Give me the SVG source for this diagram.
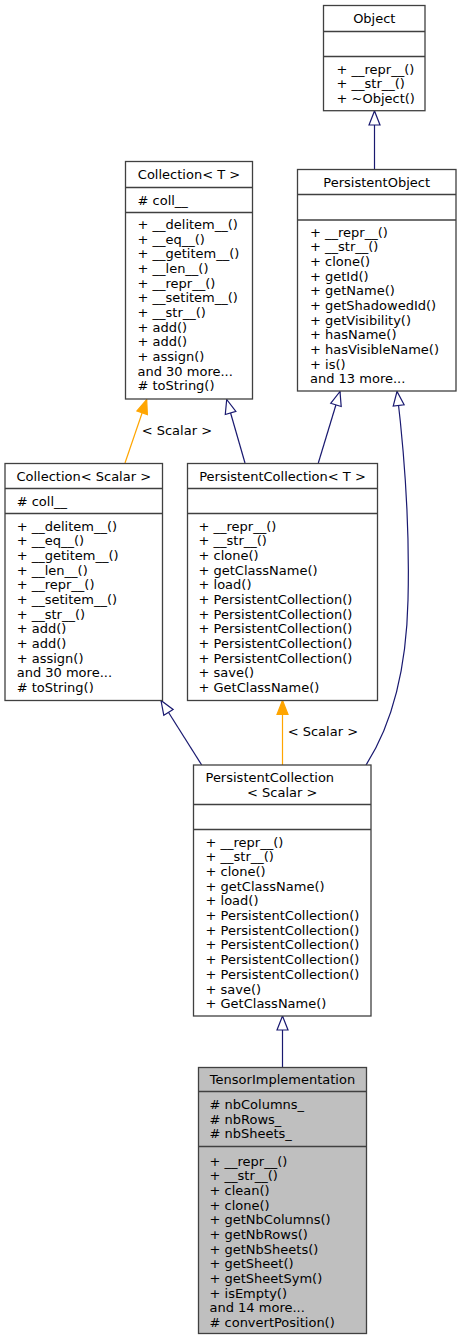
<svg xmlns="http://www.w3.org/2000/svg" width="457" height="1340" viewBox="0 0 457 1340">
<style>
text{font-family:"DejaVu Sans","Liberation Sans",sans-serif;font-size:13px;fill:#000}
.c{text-anchor:middle}
.box{fill:#fff;stroke:#404040;stroke-width:1.3}
.focus{fill:#bfbfbf;stroke:#404040;stroke-width:1.3}
.sep{stroke:#404040;stroke-width:1.3}
.inh{fill:none;stroke:#191970;stroke-width:1.2;marker-end:url(#hollow)}
.tpl{fill:none;stroke:#ffa500;stroke-width:1.2;marker-end:url(#solid)}
</style>
<defs>
<marker id="hollow" markerUnits="userSpaceOnUse" markerWidth="18" markerHeight="14" refX="15" refY="7" orient="auto">
<path d="M1,1.5 L15,7 L1,12.5 z" fill="#fff" stroke="#191970" stroke-width="1.2"/>
</marker>
<marker id="solid" markerUnits="userSpaceOnUse" markerWidth="18" markerHeight="14" refX="15" refY="7" orient="auto">
<path d="M1,1.5 L15,7 L1,12.5 z" fill="#ffa500" stroke="#ffa500" stroke-width="1.2"/>
</marker>
</defs>
<g id="connectors">
<path class="inh" d="M374.5,169.5 L374.5,111"/>
<path class="tpl" d="M125,463 L146.7,399.5"/>
<text x="141.7" y="435">&lt; Scalar &gt;</text>
<path class="inh" d="M245,463 L226.7,399.5"/>
<path class="inh" d="M318.3,463 L340,391.5"/>
<path class="inh" d="M366,765 C382,740 406,690 408,600 C410,520 404,450 397,391.5"/>
<path class="inh" d="M201.7,765 L161,700.5"/>
<path class="tpl" d="M282.5,765 L282.5,700.5"/>
<text x="287.7" y="736.2">&lt; Scalar &gt;</text>
<path class="inh" d="M282.5,1067.5 L282.5,1016"/>
</g>
<g id="Object">
<rect class="box" x="323.5" y="5.5" width="101.5" height="105.2"/>
<line class="sep" x1="323.5" y1="31.5" x2="425" y2="31.5"/>
<line class="sep" x1="323.5" y1="56.5" x2="425" y2="56.5"/>
<text class="c" x="374.3" y="22.8">Object</text>
<text x="336.5" y="73.5">+ __repr__()<tspan x="336.5" dy="14.67">+ __str__()</tspan><tspan x="336.5" dy="14.67">+ ~Object()</tspan></text>
</g>
<g id="PersistentObject">
<rect class="box" x="297.5" y="169.5" width="158.5" height="221.5"/>
<line class="sep" x1="297.5" y1="194.5" x2="456" y2="194.5"/>
<line class="sep" x1="297.5" y1="220" x2="456" y2="220"/>
<text class="c" x="376.7" y="186.5">PersistentObject</text>
<text x="310" y="236.5">+ __repr__()<tspan x="310" dy="14.67">+ __str__()</tspan><tspan x="310" dy="14.67">+ clone()</tspan><tspan x="310" dy="14.67">+ getId()</tspan><tspan x="310" dy="14.67">+ getName()</tspan><tspan x="310" dy="14.67">+ getShadowedId()</tspan><tspan x="310" dy="14.67">+ getVisibility()</tspan><tspan x="310" dy="14.67">+ hasName()</tspan><tspan x="310" dy="14.67">+ hasVisibleName()</tspan><tspan x="310" dy="14.67">+ is()</tspan><tspan x="310" dy="14.67">and 13 more...</tspan></text>
</g>
<g id="CollectionT">
<rect class="box" x="125.5" y="161.5" width="127" height="237.5"/>
<line class="sep" x1="125.5" y1="187.5" x2="252.5" y2="187.5"/>
<line class="sep" x1="125.5" y1="212.5" x2="252.5" y2="212.5"/>
<text class="c" x="189" y="179">Collection&lt; T &gt;</text>
<text x="137.5" y="204.5"># coll__</text>
<text x="137.5" y="229">+ __delitem__()<tspan x="137.5" dy="14.67">+ __eq__()</tspan><tspan x="137.5" dy="14.67">+ __getitem__()</tspan><tspan x="137.5" dy="14.67">+ __len__()</tspan><tspan x="137.5" dy="14.67">+ __repr__()</tspan><tspan x="137.5" dy="14.67">+ __setitem__()</tspan><tspan x="137.5" dy="14.67">+ __str__()</tspan><tspan x="137.5" dy="14.67">+ add()</tspan><tspan x="137.5" dy="14.67">+ add()</tspan><tspan x="137.5" dy="14.67">+ assign()</tspan><tspan x="137.5" dy="14.67">and 30 more...</tspan><tspan x="137.5" dy="14.67"># toString()</tspan></text>
</g>
<g id="CollectionScalar">
<rect class="box" x="5" y="463.5" width="157.5" height="237"/>
<line class="sep" x1="5" y1="488.5" x2="162.5" y2="488.5"/>
<line class="sep" x1="5" y1="513.5" x2="162.5" y2="513.5"/>
<text class="c" x="83.75" y="480.5">Collection&lt; Scalar &gt;</text>
<text x="16.7" y="505.5"># coll__</text>
<text x="16.7" y="530.5">+ __delitem__()<tspan x="16.7" dy="14.67">+ __eq__()</tspan><tspan x="16.7" dy="14.67">+ __getitem__()</tspan><tspan x="16.7" dy="14.67">+ __len__()</tspan><tspan x="16.7" dy="14.67">+ __repr__()</tspan><tspan x="16.7" dy="14.67">+ __setitem__()</tspan><tspan x="16.7" dy="14.67">+ __str__()</tspan><tspan x="16.7" dy="14.67">+ add()</tspan><tspan x="16.7" dy="14.67">+ add()</tspan><tspan x="16.7" dy="14.67">+ assign()</tspan><tspan x="16.7" dy="14.67">and 30 more...</tspan><tspan x="16.7" dy="14.67"># toString()</tspan></text>
</g>
<g id="PersistentCollectionT">
<rect class="box" x="187.5" y="463.5" width="190" height="237"/>
<line class="sep" x1="187.5" y1="488.5" x2="377.5" y2="488.5"/>
<line class="sep" x1="187.5" y1="513.5" x2="377.5" y2="513.5"/>
<text class="c" x="282.5" y="480.5">PersistentCollection&lt; T &gt;</text>
<text x="198.5" y="530.5">+ __repr__()<tspan x="198.5" dy="14.67">+ __str__()</tspan><tspan x="198.5" dy="14.67">+ clone()</tspan><tspan x="198.5" dy="14.67">+ getClassName()</tspan><tspan x="198.5" dy="14.67">+ load()</tspan><tspan x="198.5" dy="14.67">+ PersistentCollection()</tspan><tspan x="198.5" dy="14.67">+ PersistentCollection()</tspan><tspan x="198.5" dy="14.67">+ PersistentCollection()</tspan><tspan x="198.5" dy="14.67">+ PersistentCollection()</tspan><tspan x="198.5" dy="14.67">+ PersistentCollection()</tspan><tspan x="198.5" dy="14.67">+ save()</tspan><tspan x="198.5" dy="14.67">+ GetClassName()</tspan></text>
</g>
<g id="PersistentCollectionScalar">
<rect class="box" x="193.5" y="765" width="177.5" height="251"/>
<line class="sep" x1="193.5" y1="804.5" x2="371" y2="804.5"/>
<line class="sep" x1="193.5" y1="829.5" x2="371" y2="829.5"/>
<text x="205.5" y="781.8">PersistentCollection</text>
<text class="c" x="282.2" y="796.5">&lt; Scalar &gt;</text>
<text x="205.5" y="846.8">+ __repr__()<tspan x="205.5" dy="14.67">+ __str__()</tspan><tspan x="205.5" dy="14.67">+ clone()</tspan><tspan x="205.5" dy="14.67">+ getClassName()</tspan><tspan x="205.5" dy="14.67">+ load()</tspan><tspan x="205.5" dy="14.67">+ PersistentCollection()</tspan><tspan x="205.5" dy="14.67">+ PersistentCollection()</tspan><tspan x="205.5" dy="14.67">+ PersistentCollection()</tspan><tspan x="205.5" dy="14.67">+ PersistentCollection()</tspan><tspan x="205.5" dy="14.67">+ PersistentCollection()</tspan><tspan x="205.5" dy="14.67">+ save()</tspan><tspan x="205.5" dy="14.67">+ GetClassName()</tspan></text>
</g>
<g id="TensorImplementation">
<rect class="focus" x="198.5" y="1067.5" width="168" height="266"/>
<line class="sep" x1="198.5" y1="1091.5" x2="366.5" y2="1091.5"/>
<line class="sep" x1="198.5" y1="1146.5" x2="366.5" y2="1146.5"/>
<text class="c" x="282.5" y="1084">TensorImplementation</text>
<text x="209.5" y="1109"># nbColumns_<tspan x="209.5" dy="14.67"># nbRows_</tspan><tspan x="209.5" dy="14.67"># nbSheets_</tspan></text>
<text x="209.5" y="1165.5">+ __repr__()<tspan x="209.5" dy="14.67">+ __str__()</tspan><tspan x="209.5" dy="14.67">+ clean()</tspan><tspan x="209.5" dy="14.67">+ clone()</tspan><tspan x="209.5" dy="14.67">+ getNbColumns()</tspan><tspan x="209.5" dy="14.67">+ getNbRows()</tspan><tspan x="209.5" dy="14.67">+ getNbSheets()</tspan><tspan x="209.5" dy="14.67">+ getSheet()</tspan><tspan x="209.5" dy="14.67">+ getSheetSym()</tspan><tspan x="209.5" dy="14.67">+ isEmpty()</tspan><tspan x="209.5" dy="14.67">and 14 more...</tspan><tspan x="209.5" dy="14.67"># convertPosition()</tspan></text>
</g>
</svg>
